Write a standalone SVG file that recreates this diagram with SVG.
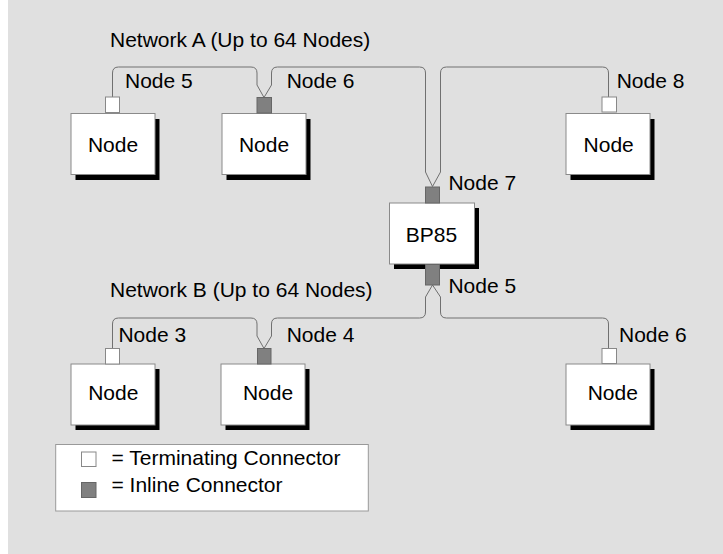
<svg xmlns="http://www.w3.org/2000/svg" width="723" height="554" viewBox="0 0 723 554">
<style>
text{font-family:"Liberation Sans",Arial,sans-serif;font-size:21px;fill:#000}
.box{fill:#fff;stroke:#8a8a8a;stroke-width:1}
.shadow{fill:#000}
.term{fill:#fff;stroke:#888;stroke-width:1}
.inl{fill:#808080;stroke:#666;stroke-width:1}
.wire{fill:none;stroke:#707070;stroke-width:1}
.mid{text-anchor:middle}
</style>
<rect x="0" y="0" width="723" height="554" fill="#fff"/>
<rect x="8" y="0" width="715" height="554" fill="#e0e0e0"/>

<g id="connectors">
<path class="wire" d="M112.5,97 V73 Q112.5,67 118.5,67 H251 Q257,67 257,73 V85 L264,97.5 L271.5,85 V73 Q271.5,67 277.5,67 H419.5 Q425.5,67 425.5,73 V172 L432.5,186.5 L440.5,172 V73 Q440.5,67 446.5,67 H602.5 Q608.5,67 608.5,73 V97"/>
<path class="wire" d="M112.5,348.5 V324 Q112.5,318 118.5,318 H251 Q257,318 257,324 V336 L264,348.5 L271.5,336 V324 Q271.5,318 277.5,318 H419.5 Q425.5,318 425.5,312 V297 L432.5,285 L440.5,297 V312 Q440.5,318 446.5,318 H602.5 Q608.5,318 608.5,324 V348.5"/>
</g>

<text x="110" y="46.5">Network A (Up to 64 Nodes)</text>
<text x="110" y="296.7">Network B (Up to 64 Nodes)</text>

<g id="node5a">
<rect class="shadow" x="75.5" y="119" width="84" height="61"/>
<rect class="box" x="71" y="113.5" width="84" height="61"/>
<rect class="term" x="105.5" y="97" width="14" height="15.5"/>
<text class="mid" x="113" y="151.5">Node</text>
<text x="125" y="88">Node 5</text>
</g>

<g id="node6a">
<rect class="shadow" x="226.5" y="119" width="84" height="61"/>
<rect class="box" x="222" y="113.5" width="84" height="61"/>
<rect class="inl" x="257" y="97.5" width="14.5" height="15.5"/>
<text class="mid" x="264" y="151.5">Node</text>
<text x="286.7" y="88">Node 6</text>
</g>

<g id="node8a">
<rect class="shadow" x="570.5" y="119" width="84" height="61"/>
<rect class="box" x="566" y="113.5" width="84" height="61"/>
<rect class="term" x="602" y="97" width="14.5" height="15"/>
<text class="mid" x="608.7" y="151.5">Node</text>
<text x="616.7" y="88">Node 8</text>
</g>

<g id="bp85">
<rect class="shadow" x="394" y="208" width="85" height="61"/>
<rect class="box" x="389.5" y="203" width="85" height="61"/>
<rect class="inl" x="425.5" y="187" width="14" height="16"/>
<rect class="inl" x="425.5" y="264.5" width="14" height="20.5"/>
<text class="mid" x="431.5" y="241.7">BP85</text>
<text x="448.4" y="190">Node 7</text>
<text x="448.4" y="293.3">Node 5</text>
</g>

<g id="node3b">
<rect class="shadow" x="75.5" y="369" width="84" height="61"/>
<rect class="box" x="71" y="364" width="84" height="61"/>
<rect class="term" x="105.5" y="348.5" width="14" height="15.5"/>
<text class="mid" x="113.3" y="399.5">Node</text>
<text x="118.4" y="341.7">Node 3</text>
</g>

<g id="node4b">
<rect class="shadow" x="225.5" y="369" width="84" height="61"/>
<rect class="box" x="221" y="364" width="84" height="61"/>
<rect class="inl" x="257.5" y="348.5" width="13.5" height="15.5"/>
<text class="mid" x="268" y="399.5">Node</text>
<text x="286.7" y="341.7">Node 4</text>
</g>

<g id="node6b">
<rect class="shadow" x="570.5" y="369" width="84" height="61"/>
<rect class="box" x="566" y="364" width="84" height="61"/>
<rect class="term" x="602" y="348.5" width="14.5" height="15"/>
<text class="mid" x="612.8" y="399.5">Node</text>
<text x="619" y="341.7">Node 6</text>
</g>

<g id="legend">
<rect x="55.7" y="444.5" width="312.6" height="66.5" fill="#fff" stroke="#999" stroke-width="1"/>
<rect class="term" x="81.5" y="452" width="14.5" height="14.5"/>
<rect class="inl" x="81.5" y="482.5" width="14.5" height="15"/>
<text x="111.5" y="465">= Terminating Connector</text>
<text x="111.5" y="491.7">= Inline Connector</text>
</g>
</svg>
